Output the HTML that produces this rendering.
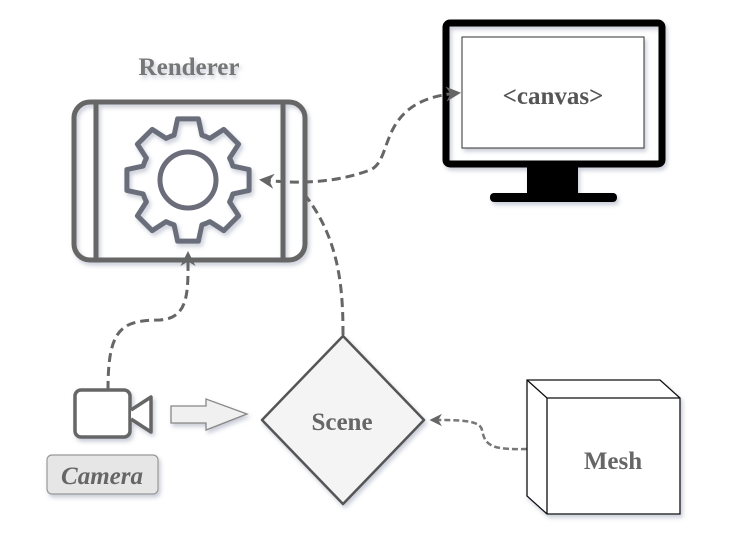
<!DOCTYPE html>
<html><head><meta charset="utf-8"><style>
html,body{margin:0;padding:0;background:#fff;}
svg{display:block;}
text{font-family:"Liberation Serif",serif;font-weight:bold;}
</style></head><body>
<svg width="751" height="542" viewBox="0 0 751 542" xmlns="http://www.w3.org/2000/svg">
<defs>
<filter id="sh" x="-10%" y="-10%" width="130%" height="130%"><feDropShadow dx="2" dy="3" stdDeviation="2" flood-color="#8890a8" flood-opacity="0.45"/></filter>
<marker id="ah" viewBox="0 0 10 10" refX="8" refY="5" markerWidth="5" markerHeight="5" orient="auto-start-reverse"><path d="M0,0 L10,5 L0,10 L3,5 Z" fill="#666"/></marker>
</defs>
<text x="189" y="75" text-anchor="middle" font-size="25" fill="#777" filter="url(#sh)">Renderer</text>
<g filter="url(#sh)" fill="none" stroke="#666" stroke-width="5">
<rect x="74" y="102" width="231" height="158" rx="16"/>
<line x1="96" y1="103" x2="96" y2="259"/>
<line x1="283" y1="103" x2="283" y2="259"/>
</g>
<polygon fill="none" stroke="#6b6e7a" stroke-width="5" stroke-linejoin="round" filter="url(#sh)" points="232.9,166.1 249.1,169.6 249.1,190.4 232.9,193.9 231.4,198 229.6,201.9 238.6,215.8 223.8,230.6 209.9,221.6 206,223.4 201.9,224.9 198.4,241.1 177.6,241.1 174.1,224.9 170,223.4 166.1,221.6 152.2,230.6 137.4,215.8 146.4,201.9 144.6,198 143.1,193.9 126.9,190.4 126.9,169.6 143.1,166.1 144.6,162 146.4,158.1 137.4,144.2 152.2,129.4 166.1,138.4 170,136.6 174.1,135.1 177.6,118.9 198.4,118.9 201.9,135.1 206,136.6 209.9,138.4 223.8,129.4 238.6,144.2 229.6,158.1 231.4,162"/>
<circle cx="188" cy="180" r="28" fill="none" stroke="#6b6e7a" stroke-width="5"/>
<!-- monitor -->
<g filter="url(#sh)">
<rect x="446" y="23" width="216" height="141" rx="4" fill="none" stroke="#000" stroke-width="7"/>
<rect x="462" y="37" width="182" height="111" fill="#fff" stroke="#333" stroke-width="1"/>
<rect x="527" y="166" width="51" height="29" fill="#000"/>
<rect x="490" y="193" width="127" height="9" rx="4" fill="#000"/>
</g>
<text x="553" y="104" text-anchor="middle" font-size="25" fill="#555">&lt;canvas&gt;</text>
<!-- connectors -->
<g fill="none" stroke="#666" stroke-width="3" stroke-dasharray="9,5">
<path d="M262,180 C290,183 330,185 370,170 C395,160 375,100 458,93" marker-start="url(#ah)" marker-end="url(#ah)"/>
<path d="M343,335 C343,290 340,240 305,195" />
<path d="M108,390 C108,330 120,320 160,320 C190,318 188,290 188,254" marker-end="url(#ah)"/>
</g>
<g fill="none" stroke="#777" stroke-width="2.5" stroke-dasharray="6,3">
<path d="M527,449 C490,450 485,445 482,430 C480,420 460,420 432,420" marker-end="url(#ah)"/>
</g>
<!-- scene -->
<path d="M343,336 L424,420 L343,504 L262,420 Z" fill="#f4f4f4" stroke="#555" stroke-width="2.5" stroke-linejoin="round" filter="url(#sh)"/>
<text x="342" y="430" text-anchor="middle" font-size="25" fill="#666">Scene</text>
<!-- camera -->
<g filter="url(#sh)" fill="#fff" stroke="#666" stroke-width="3.5" stroke-linejoin="round">
<rect x="75" y="390" width="55" height="47" rx="6"/>
<path d="M131,410 L151,397 L151,432 L131,419"/>
</g>
<path d="M171,406 L206,406 L206,399 L247,414 L206,430 L206,423 L171,423 Z" fill="#f0f0f0" stroke="#888" stroke-width="1.3" filter="url(#sh)"/>
<rect x="47" y="455" width="111" height="39" rx="5" fill="#e6e6e6" stroke="#999" stroke-width="1.2" filter="url(#sh)"/>
<text x="102" y="484" text-anchor="middle" font-size="25" font-style="italic" fill="#666">Camera</text>
<!-- mesh -->
<g fill="#fff" stroke="#111" stroke-width="1.3" filter="url(#sh)">
<path d="M527,380 L660,380 L680,398 L680,514 L547,514 L527,496 Z"/>
<path d="M527,380 L547,398 L680,398 M547,398 L547,514" fill="none"/>
</g>
<text x="613" y="469" text-anchor="middle" font-size="25" fill="#666">Mesh</text>
</svg>
</body></html>
